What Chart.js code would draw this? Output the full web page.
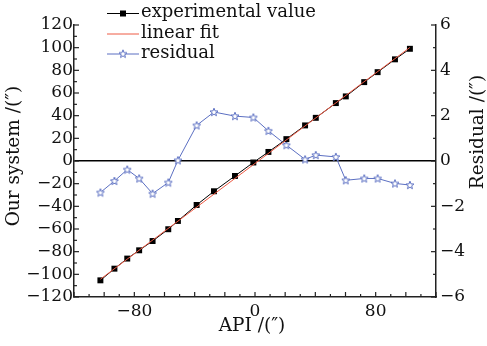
<!DOCTYPE html>
<html>
<head>
<meta charset="utf-8">
<script src="https://cdn.jsdelivr.net/npm/chart.js@4.4.0/dist/chart.umd.min.js"></script>
<style>
html,body{margin:0;padding:0;background:#fff;}
canvas{display:block;}
</style>
</head>
<body>
<canvas id="c" width="487" height="346"></canvas>
<script>
// ---- data ----
const apiValues = [-102.5, -93.2, -84.7, -76.8, -67.9, -57.5, -51.1, -38.7, -27.2, -13.3, -1.1, 8.9, 20.8, 33.2, 40.3, 53.6, 60.2, 72.4, 81.3, 92.8, 102.7];
const systemValues = [-105.3, -95, -86.1, -78.8, -70.6, -60.2, -52.9, -38.8, -26.7, -13.2, -1.3, 8.0, 19.3, 31.4, 38.1, 51.1, 57, 69.6, 78.4, 89.7, 99];
const residualValues = [-1.39, -0.88, -0.38, -0.77, -1.44, -0.95, 0.03, 1.57, 2.16, 1.98, 1.92, 1.33, 0.70, 0.07, 0.26, 0.18, -0.85, -0.77, -0.77, -0.99, -1.06];
const fitX = [-102.5, 102.7];
const fitY = [-104.3, 100.2];
const xTickLabels = [-80, 0, 80];
const yTickLabels = [-120, -100, -80, -60, -40, -20, 0, 20, 40, 60, 80, 100, 120];
const y2TickLabels = [-6, -4, -2, 0, 2, 4, 6];
const seriesNames = ['experimental value', 'linear fit', 'residual'];
const titleX = 'API /(\u2033)';
const titleY = 'Our system /(\u2033)';
const titleY2 = 'Residual /(\u2033)';

const FONT = 'DejaVu Serif';
const BLUE = '#5b6fc2';
const RED = '#ee5a44';

function makeStar(color) {
  const c = document.createElement('canvas');
  c.width = 10; c.height = 10;
  const g = c.getContext('2d');
  const cx = 5, cy = 5.3, R = 4.2, r = 1.8;
  g.beginPath();
  for (let i = 0; i < 10; i++) {
    const a = -Math.PI / 2 + i * Math.PI / 5;
    const rad = i % 2 === 0 ? R : r;
    const px = cx + rad * Math.cos(a), py = cy + rad * Math.sin(a);
    if (i === 0) g.moveTo(px, py); else g.lineTo(px, py);
  }
  g.closePath();
  g.fillStyle = '#fff';
  g.fill();
  g.lineWidth = 1;
  g.strokeStyle = color;
  g.stroke();
  return c;
}
const starImg = makeStar(BLUE);

const fmt = v => String(v).replace('-', '\u2212');

const tickMarks = {
  id: 'tickMarks',
  afterDraw(chart) {
    const ctx = chart.ctx;
    const a = chart.chartArea;
    ctx.save();
    ctx.strokeStyle = '#222';
    ctx.lineWidth = 1.2;
    const xs = chart.scales.x, ys = chart.scales.y, y2 = chart.scales.y2;
    for (let v = xs.min; v <= xs.max + 1e-9; v += 10) {
      const p = xs.getPixelForValue(v);
      const len = (Math.round(v) % 20 === 0) ? 5 : 3;
      ctx.beginPath(); ctx.moveTo(p, a.bottom); ctx.lineTo(p, a.bottom - len); ctx.stroke();
    }
    for (let v = ys.min; v <= ys.max + 1e-9; v += 10) {
      const p = ys.getPixelForValue(v);
      const len = (Math.round(v) % 20 === 0) ? 5 : 3;
      ctx.beginPath(); ctx.moveTo(a.left, p); ctx.lineTo(a.left + len, p); ctx.stroke();
    }
    for (let v = y2.min; v <= y2.max + 1e-9; v += 1) {
      const p = y2.getPixelForValue(v);
      const len = (Math.round(v) % 2 === 0) ? 5 : 3;
      ctx.beginPath(); ctx.moveTo(a.right, p); ctx.lineTo(a.right - len, p); ctx.stroke();
    }
    ctx.restore();
  }
};

const titlesAndLegend = {
  id: 'titlesAndLegend',
  afterDraw(chart) {
    const ctx = chart.ctx;
    ctx.save();
    ctx.fillStyle = '#111';
    ctx.font = '18.5px "' + FONT + '"';
    ctx.textAlign = 'center';
    ctx.textBaseline = 'middle';
    ctx.fillText(titleX, 252, 326);
    ctx.save();
    ctx.translate(14, 156); ctx.rotate(-Math.PI / 2);
    ctx.fillText(titleY, 0, 0);
    ctx.restore();
    ctx.save();
    ctx.translate(478, 132); ctx.rotate(-Math.PI / 2);
    ctx.fillText(titleY2, 0, 0);
    ctx.restore();

    // legend
    const rows = [13.5, 34, 54];
    const x0 = 107, x1 = 139;
    ctx.lineWidth = 1;
    ctx.strokeStyle = '#000';
    ctx.beginPath(); ctx.moveTo(x0, rows[0]); ctx.lineTo(x1, rows[0]); ctx.stroke();
    ctx.fillStyle = '#000';
    ctx.fillRect((x0 + x1) / 2 - 3, rows[0] - 3, 6, 6);
    ctx.strokeStyle = RED;
    ctx.beginPath(); ctx.moveTo(x0, rows[1]); ctx.lineTo(x1, rows[1]); ctx.stroke();
    ctx.strokeStyle = BLUE;
    ctx.beginPath(); ctx.moveTo(x0, rows[2]); ctx.lineTo(x1, rows[2]); ctx.stroke();
    ctx.drawImage(starImg, (x0 + x1) / 2 - 5, rows[2] - 5.3);
    ctx.fillStyle = '#111';
    ctx.textAlign = 'left';
    ctx.font = '18px "' + FONT + '"';
    seriesNames.forEach((n, i) => ctx.fillText(n, 141, rows[i] - 1));
    ctx.restore();
  }
};

const toTicks = arr => arr.map(v => ({ value: v }));

new Chart(document.getElementById('c'), {
  type: 'scatter',
  data: {
    datasets: [
      {
        label: seriesNames[1],
        data: fitX.map((x, i) => ({ x, y: fitY[i] })),
        showLine: true,
        borderColor: RED,
        borderWidth: 1,
        pointRadius: 0,
        yAxisID: 'y',
        order: 0
      },
      {
        label: seriesNames[0],
        data: apiValues.map((x, i) => ({ x, y: systemValues[i] })),
        showLine: true,
        borderColor: '#000',
        backgroundColor: '#000',
        borderWidth: 1,
        pointStyle: 'rect',
        pointRadius: 4.2,
        pointBorderWidth: 0,
        yAxisID: 'y',
        order: 1
      },
      {
        label: seriesNames[2],
        data: apiValues.map((x, i) => ({ x, y: residualValues[i] })),
        showLine: true,
        borderColor: BLUE,
        borderWidth: 1,
        pointStyle: starImg,
        yAxisID: 'y2',
        order: 2
      }
    ]
  },
  options: {
    responsive: false,
    animation: false,
    devicePixelRatio: 1,
    layout: { padding: { top: 25, left: 0, right: 0, bottom: 0 } },
    plugins: { legend: { display: false }, tooltip: { enabled: false } },
    scales: {
      x: {
        type: 'linear', position: 'bottom', min: -120, max: 120,
        afterFit: s => { s.height = 49; },
        afterBuildTicks: s => { s.ticks = toTicks(xTickLabels); },
        grid: { display: false, drawTicks: false },
        border: { display: true, color: '#222', width: 1.5 },
        ticks: { autoSkip: false, color: '#111', padding: 4, font: { family: FONT, size: 17 }, callback: fmt, maxRotation: 0 }
      },
      y: {
        type: 'linear', position: 'left', min: -120, max: 120,
        afterFit: s => { s.width = 74; },
        afterBuildTicks: s => { s.ticks = toTicks(yTickLabels); },
        grid: {
          drawOnChartArea: true, drawTicks: false,
          color: c => (c.tick && c.tick.value === 0) ? '#000' : 'rgba(0,0,0,0)',
          lineWidth: 1.5
        },
        border: { display: true, color: '#222', width: 1.5 },
        ticks: { autoSkip: false, color: '#111', padding: 1, font: { family: FONT, size: 17 }, callback: fmt }
      },
      y2: {
        type: 'linear', position: 'right', min: -6, max: 6,
        afterFit: s => { s.width = 51; },
        afterBuildTicks: s => { s.ticks = toTicks(y2TickLabels); },
        grid: { display: false, drawTicks: false },
        border: { display: true, color: '#222', width: 1.5 },
        ticks: { autoSkip: false, color: '#111', padding: 4, font: { family: FONT, size: 17 }, callback: fmt }
      }
    }
  },
  plugins: [tickMarks, titlesAndLegend]
});
</script>
</body>
</html>
